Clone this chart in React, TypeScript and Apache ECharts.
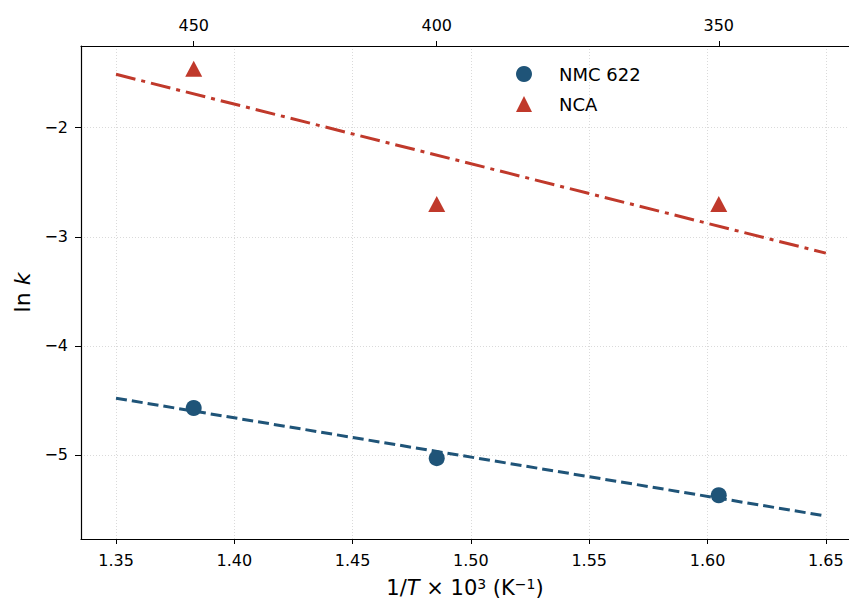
import React, { useEffect, useRef } from "react";
import * as echarts from "echarts";

// Temperatures (°C) of the measurements, also the top-axis tick labels
const temperaturesC = [450, 400, 350];
// ln k values
const nmcLnK = [-4.57, -5.03, -5.37];
const ncaLnK = [-1.46, -2.7, -2.7];
// Linear fit lines (endpoints)
const fitX = [1.35, 1.65];
const nmcFit = [-4.48, -5.56];
const ncaFit = [-1.51, -3.15];
// Tick values
const bottomTicks = [1.35, 1.4, 1.45, 1.5, 1.55, 1.6, 1.65];
const yTicks = [-5, -4, -3, -2];

const X_MIN = 1.3352;
const X_MAX = 1.6598;
const Y_MIN = -5.771;
const Y_MAX = -1.2505;

const BLUE = "#1f5478";
const RED = "#c0392b";
const FONT = "DejaVu Sans";

const invT = (c: number) => 1000 / (c + 273.15);

export default function App() {
  const ref = useRef<HTMLDivElement>(null);
  useEffect(() => {
    if (!ref.current) return;
    const chart = echarts.init(ref.current, undefined, { renderer: "svg" });
    const topTicks = temperaturesC.map(invT);
    const axisLineStyle = { color: "#000", width: 1.2 };
    const gridStyle = { color: "#d0d0d0", width: 0.8, type: [1, 2] as any };
    const nameRich = {
      a: { fontSize: 21, fontFamily: FONT, color: "#000", lineHeight: 22 },
      i: { fontSize: 21, fontFamily: FONT, color: "#000", fontStyle: "italic", lineHeight: 22 },
      s: { fontSize: 14, fontFamily: FONT, color: "#000", lineHeight: 22, verticalAlign: "top" },
    };
    chart.setOption({
      animation: false,
      backgroundColor: "#fff",
      textStyle: { fontFamily: FONT },
      grid: {
        left: 81,
        top: 46,
        right: 0,
        bottom: 61,
        containLabel: false,
        outerBoundsMode: "none",
      },
      legend: {
        data: [
          { name: "NMC 622", icon: "circle" },
          { name: "NCA", icon: "triangle" },
        ],
        orient: "vertical",
        left: 511,
        top: 60,
        itemWidth: 16,
        itemHeight: 16,
        itemGap: 12,
        textStyle: { fontSize: 18, color: "#000", fontFamily: FONT, padding: [0, 0, 0, 22] },
      },
      xAxis: [
        {
          type: "value",
          position: "bottom",
          min: X_MIN,
          max: X_MAX,
          axisLine: { show: true, onZero: false, lineStyle: axisLineStyle },
          axisTick: { show: true, length: 5, lineStyle: { color: "#000", width: 1 }, customValues: bottomTicks },
          axisLabel: {
            customValues: bottomTicks,
            formatter: (v: number) => v.toFixed(2),
            fontSize: 16,
            color: "#000",
            margin: 13,
            fontFamily: FONT,
          },
          splitLine: { show: true, lineStyle: gridStyle },
          name: "{a|1/}{i|T}{a| × 10}{s|3}{a| (K}{s|−1}{a|)}",
          nameLocation: "middle",
          nameGap: 38,
          nameTextStyle: { rich: nameRich },
        },
        {
          type: "value",
          position: "top",
          min: X_MIN,
          max: X_MAX,
          axisLine: { show: true, onZero: false, lineStyle: axisLineStyle },
          axisTick: { show: true, length: 5, lineStyle: { color: "#000", width: 1 }, customValues: topTicks },
          axisLabel: {
            customValues: topTicks,
            formatter: (v: number) => String(Math.round(1000 / v - 273.15)),
            fontSize: 16,
            color: "#000",
            margin: 13,
            fontFamily: FONT,
          },
          splitLine: { show: false },
        },
      ],
      yAxis: {
        type: "value",
        min: Y_MIN,
        max: Y_MAX,
        axisLine: { show: true, onZero: false, lineStyle: axisLineStyle },
        axisTick: { show: true, length: 6, lineStyle: { color: "#000", width: 1 }, customValues: yTicks },
        axisLabel: {
          customValues: yTicks,
          formatter: (v: number) => (v < 0 ? "\u2212" : "") + Math.abs(v),
          fontSize: 16,
          color: "#000",
          margin: 13,
          fontFamily: FONT,
        },
        splitLine: { show: true, lineStyle: gridStyle },
        name: "{a|ln }{i|k}",
        nameLocation: "middle",
        nameGap: 47,
        nameTextStyle: {
          rich: {
            a: { fontSize: 22, fontFamily: FONT, color: "#000" },
            i: { fontSize: 22, fontFamily: FONT, color: "#000", fontStyle: "italic" },
          },
        },
      },
      series: [
        {
          name: "NMC fit",
          type: "line",
          xAxisIndex: 0,
          data: fitX.map((x, i) => [x, nmcFit[i]]),
          symbol: "none",
          lineStyle: { color: BLUE, width: 3, type: [11, 5] },
          silent: true,
          z: 2,
        },
        {
          name: "NCA fit",
          type: "line",
          xAxisIndex: 0,
          data: fitX.map((x, i) => [x, ncaFit[i]]),
          symbol: "none",
          lineStyle: { color: RED, width: 3, type: [20, 6, 4, 6] },
          silent: true,
          z: 2,
        },
        {
          name: "NMC 622",
          type: "scatter",
          xAxisIndex: 0,
          data: temperaturesC.map((c, i) => [invT(c), nmcLnK[i]]),
          symbol: "circle",
          symbolSize: 16,
          itemStyle: { color: BLUE, opacity: 1 },
          z: 3,
        },
        {
          name: "NCA",
          type: "scatter",
          xAxisIndex: 0,
          data: temperaturesC.map((c, i) => [invT(c), ncaLnK[i]]),
          symbol: "triangle",
          symbolSize: [17, 16],
          itemStyle: { color: RED, opacity: 1 },
          z: 3,
        },
      ],
    });
    return () => chart.dispose();
  }, []);
  return (
    <div
      ref={ref}
      style={{ position: "absolute", left: 0, top: 0, width: 849, height: 600 }}
    />
  );
}
